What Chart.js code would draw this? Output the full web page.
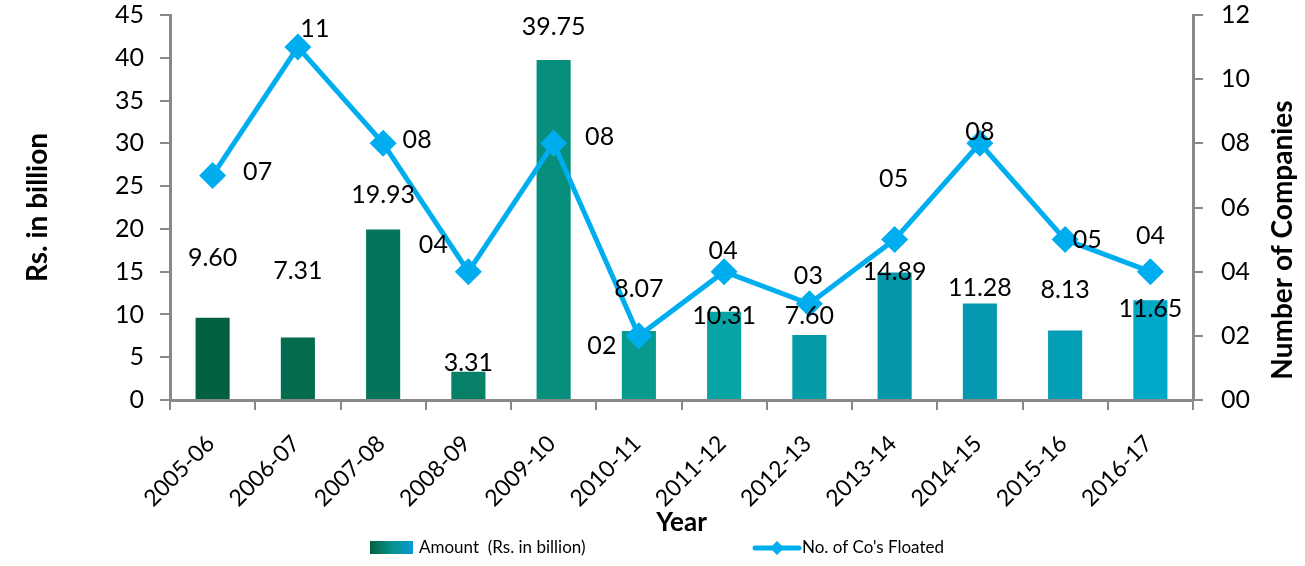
<!DOCTYPE html>
<html>
<head>
<meta charset="utf-8">
<script src="https://cdn.jsdelivr.net/npm/chart.js@4.4.1/dist/chart.umd.min.js"></script>
<style>
	html, body { margin: 0; padding: 0; background: #fff; }
	#wrap { width: 1305px; height: 566px; position: relative; }
</style>
</head>
<body>
<div id="wrap"><canvas id="myChart" width="1305" height="566"></canvas></div>
<script>
// données du graphique
const years = ['2005-06', '2006-07', '2007-08', '2008-09', '2009-10', '2010-11',
	'2011-12', '2012-13', '2013-14', '2014-15', '2015-16', '2016-17'];
const amounts = [9.60, 7.31, 19.93, 3.31, 39.75, 8.07, 10.31, 7.60, 14.89, 11.28, 8.13, 11.65];
const companies = [7, 11, 8, 4, 8, 2, 4, 3, 5, 8, 5, 4];
const amountTicks = [0, 5, 10, 15, 20, 25, 30, 35, 40, 45];
const companyTicks = [0, 2, 4, 6, 8, 10, 12];

// couleurs des barres (dégradé vert -> bleu)
const barColors = ['#03613F', '#046B4F', '#04755A', '#068067', '#078E7C', '#079A8D',
	'#06A4A3', '#039CA6', '#0397A9', '#0398AF', '#039FB6', '#00A8C8'];
const lineColor = '#00AEEF';
const FONT = 'Lato, "Open Sans", sans-serif';

// décalages manuels des étiquettes (en pixels)
const barLabelShift = [[0, -60], [0, -67], [0, -35], [0, -9], [0, -33], [0, -42],
	[0, 4], [0, -19], [0, -1], [0, -16], [0, -41], [0, 9]];
const lineLabelShift = [[45, -3], [17, -18], [34, -3], [-35, -27], [46, -6], [-37, 10],
	[-1, -21], [-1, -28], [-1, -61], [0, -11], [22, 0], [0, -36]];

const labelPlugin = {
	id: 'labelPlugin',
	afterDatasetsDraw(chart) {
		const ctx = chart.ctx;
		ctx.save();
		ctx.font = '25px ' + FONT;
		ctx.fillStyle = '#000';
		ctx.textAlign = 'center';
		ctx.textBaseline = 'middle';
		const bars = chart.getDatasetMeta(1).data;
		bars.forEach((b, i) => {
			ctx.fillText(amounts[i].toFixed(2), b.x + barLabelShift[i][0], b.y + barLabelShift[i][1]);
		});
		const pts = chart.getDatasetMeta(0).data;
		pts.forEach((p, i) => {
			ctx.fillText(String(companies[i]).padStart(2, '0'), p.x + lineLabelShift[i][0], p.y + lineLabelShift[i][1]);
		});
		ctx.restore();
	},
	afterDraw(chart) {
		const ctx = chart.ctx;
		ctx.save();
		// titre de l'axe de droite (lu de bas en haut)
		ctx.translate(1283, 240);
		ctx.rotate(-Math.PI / 2);
		ctx.font = 'bold 28px ' + FONT;
		ctx.fillStyle = '#000';
		ctx.textAlign = 'center';
		ctx.textBaseline = 'middle';
		ctx.fillText('Number of Companies', 0, 0);
		ctx.restore();

		// légende personnalisée
		ctx.save();
		const y = 548;
		const g = ctx.createLinearGradient(370, 0, 413, 0);
		g.addColorStop(0, '#03613F');
		g.addColorStop(0.5, '#06918A');
		g.addColorStop(1, '#0A9AD6');
		ctx.fillStyle = g;
		ctx.fillRect(370, y - 7, 43, 13);
		ctx.font = '17px ' + FONT;
		ctx.fillStyle = '#000';
		ctx.textBaseline = 'middle';
		ctx.textAlign = 'left';
		ctx.fillText('Amount  (Rs. in billion)', 419, y);
		ctx.strokeStyle = lineColor;
		ctx.lineWidth = 5;
		ctx.lineCap = 'round';
		ctx.beginPath();
		ctx.moveTo(755, y);
		ctx.lineTo(799, y);
		ctx.stroke();
		ctx.fillStyle = lineColor;
		ctx.beginPath();
		ctx.moveTo(777, y - 7);
		ctx.lineTo(784, y);
		ctx.lineTo(777, y + 7);
		ctx.lineTo(770, y);
		ctx.closePath();
		ctx.fill();
		ctx.fillStyle = '#000';
		ctx.fillText("No. of Co's Floated", 802, y);
		ctx.restore();
	}
};

// supprime la marge automatique au-dessus / au-dessous des axes verticaux
function fixVertical(width) {
	return function(scale) {
		scale.width = width;
		scale.paddingTop = 0;
		scale.paddingBottom = 0;
	};
}

const ctx = document.getElementById('myChart').getContext('2d');
const myChart = new Chart(ctx, {
	data: {
		labels: years,
		datasets: [{
			type: 'line',
			label: "No. of Co's Floated",
			data: companies,
			yAxisID: 'y1',
			borderColor: lineColor,
			backgroundColor: lineColor,
			borderWidth: 5,
			pointStyle: 'rectRot',
			pointRadius: 10,
			pointHoverRadius: 10,
			tension: 0,
			order: 0
		}, {
			type: 'bar',
			label: 'Amount  (Rs. in billion)',
			data: amounts,
			yAxisID: 'y',
			backgroundColor: barColors,
			barPercentage: 0.4,
			categoryPercentage: 1,
			order: 1
		}]
	},
	options: {
		responsive: false,
		animation: false,
		devicePixelRatio: 1,
		layout: { padding: { top: 15, bottom: 24, left: 0, right: 0 } },
		plugins: {
			legend: { display: false },
			tooltip: { enabled: false }
		},
		scales: {
			x: {
				offset: true,
				grid: {
					offset: true,
					drawOnChartArea: false,
					drawTicks: true,
					tickLength: 10,
					color: '#898989',
					lineWidth: 2
				},
				border: { color: '#898989', width: 3 },
				ticks: {
					color: '#000',
					font: { family: FONT, size: 23 },
					maxRotation: 45,
					minRotation: 45,
					padding: 20,
					labelOffset: -2
				},
				title: {
					display: true,
					text: 'Year',
					color: '#000',
					font: { family: FONT, size: 26, weight: 'bold' },
					padding: { top: 0, bottom: 4 }
				},
				afterFit(scale) {
					scale.height = 142;
					scale.paddingLeft = 0;
					scale.paddingRight = 0;
				}
			},
			y: {
				position: 'left',
				min: 0,
				max: 45,
				afterBuildTicks(scale) { scale.ticks = amountTicks.map(v => ({ value: v })); },
				grid: {
					drawOnChartArea: false,
					drawTicks: true,
					tickLength: 10,
					color: '#898989',
					lineWidth: 2
				},
				border: { color: '#898989', width: 3 },
				ticks: {
					color: '#000',
					font: { family: FONT, size: 25 },
					padding: 16
				},
				title: {
					display: true,
					text: 'Rs. in billion',
					color: '#000',
					font: { family: FONT, size: 28, weight: 'bold' },
					padding: { top: 21, bottom: 0 }
				},
				afterFit: fixVertical(170)
			},
			y1: {
				position: 'right',
				min: 0,
				max: 12,
				afterBuildTicks(scale) { scale.ticks = companyTicks.map(v => ({ value: v })); },
				grid: {
					drawOnChartArea: false,
					drawTicks: true,
					tickLength: 10,
					color: '#898989',
					lineWidth: 2
				},
				border: { color: '#898989', width: 3 },
				ticks: {
					color: '#000',
					font: { family: FONT, size: 25 },
					padding: 18,
					callback: v => String(v).padStart(2, '0')
				},
				afterFit: fixVertical(112)
			}
		}
	},
	plugins: [labelPlugin]
});
</script>
</body>
</html>
